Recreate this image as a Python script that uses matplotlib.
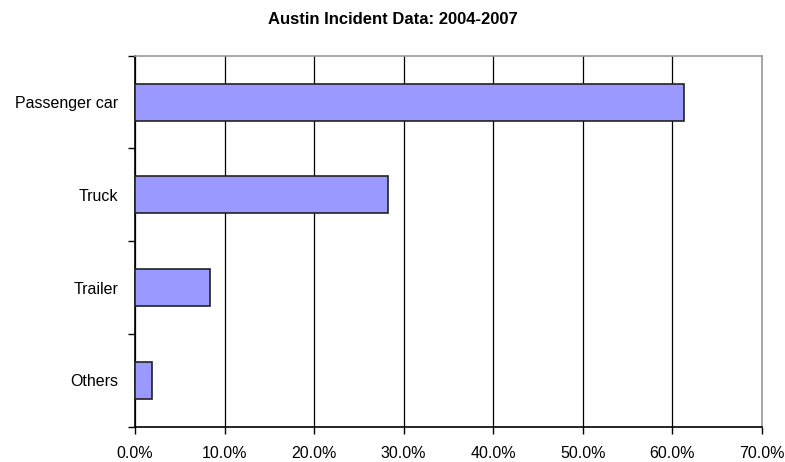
import matplotlib
matplotlib.use("Agg")
import matplotlib.pyplot as plt
from matplotlib.ticker import FixedLocator, FuncFormatter

categories = ["Passenger car", "Truck", "Trailer", "Others"]
values = [61.3, 28.3, 8.4, 1.9]
xticks = [0, 10, 20, 30, 40, 50, 60, 70]

plt.rcParams['font.family'] = ['Liberation Sans', 'DejaVu Sans']

fig = plt.figure(figsize=(7.85, 4.62), dpi=100)
ax = fig.add_axes([135/785, 1 - 426.7/462, (761.7 - 135)/785, (426.7 - 55.7)/462])

n = len(categories)
ypos = list(range(n))
ax.barh(ypos, values, height=0.4, color="#9999FF", edgecolor="#222222", linewidth=1.2, zorder=3)

ax.set_xlim(0, 70)
ax.set_ylim(n - 0.5, -0.5)
ax.set_xticks(xticks)
ax.xaxis.set_major_formatter(FuncFormatter(lambda v, p: f"{v:.1f}%"))
ax.set_yticks(ypos)
ax.set_yticklabels(categories)
ax.yaxis.set_minor_locator(FixedLocator([i - 0.5 for i in range(n + 1)]))
ax.tick_params(axis='y', which='major', length=0, pad=12, labelsize=11.5)
ax.tick_params(axis='y', which='minor', length=5, width=1, color="#000000", direction='out')
ax.tick_params(axis='x', which='major', length=5, width=1, direction='out', pad=9, labelsize=11.5)

ax.grid(axis='x', color="#000000", linewidth=0.9, zorder=1)
for s in ['left', 'bottom']:
    ax.spines[s].set_color("#000000")
    ax.spines[s].set_linewidth(1.2)
for s in ['top', 'right']:
    ax.spines[s].set_color("#999999")
    ax.spines[s].set_linewidth(1.2)

fig.text(0.5, 1 - 19/462, "Austin Incident Data: 2004-2007", ha='center', va='center',
         fontsize=12, fontweight='bold')

fig.savefig("out.png", dpi=100)
